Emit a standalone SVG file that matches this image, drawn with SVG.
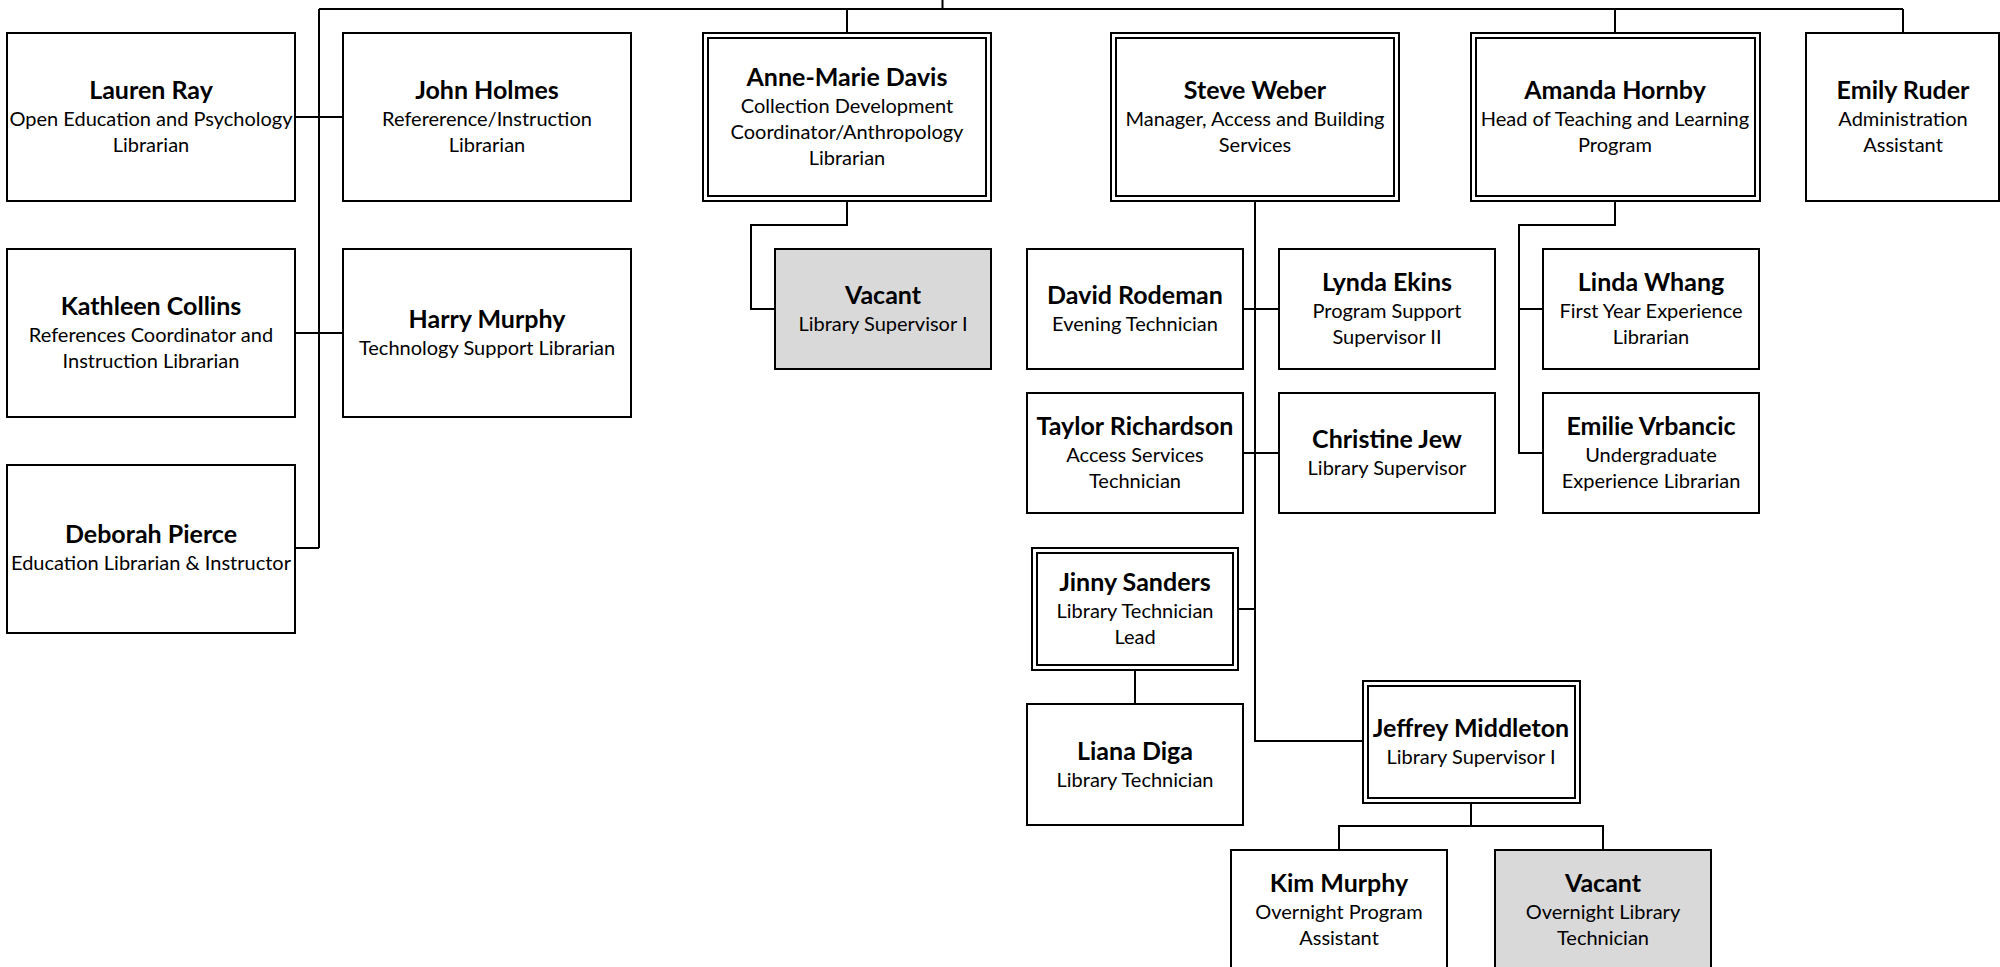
<svg xmlns="http://www.w3.org/2000/svg" width="2000" height="967" viewBox="0 0 2000 967">
<style>
.bx{fill:#fff;stroke:#000;stroke-width:2}
.vac{fill:#d9d9d9;stroke:#000;stroke-width:2}
.in{fill:none;stroke:#000;stroke-width:2}
.c{fill:none;stroke:#000;stroke-width:2}
text{font-family:Lato,"Liberation Sans",sans-serif;text-anchor:middle;fill:#000}
.n{font-weight:bold;font-size:25px}
.t{font-size:20px}
</style>
<rect width="2000" height="967" fill="#fff"/>
<g id="connectors">
<path class="c" d="M942.5 0V9M319 9H1903M319 9V548M295 117H343M295 333H343M295 548H319"/>
<path class="c" d="M847 9V33M847 201V225H751V309H775"/>
<path class="c" d="M1615 9V33M1903 9V33"/>
<path class="c" d="M1255 201V741H1363M1243 309H1279M1243 453H1279M1238 609H1255M1135 670V704"/>
<path class="c" d="M1615 201V225H1519V453H1542M1519 309H1543"/>
<path class="c" d="M1471 803V826M1339 850V826H1603V850"/>
</g>
<g id="lauren"><rect class="bx" x="7" y="33" width="288" height="168"/><text x="151" y="98.5"><tspan class="n">Lauren Ray</tspan><tspan class="t" x="151" dy="27">Open Education and Psychology</tspan><tspan class="t" x="151" dy="26">Librarian</tspan></text></g>
<g id="john"><rect class="bx" x="343" y="33" width="288" height="168"/><text x="487" y="98.5"><tspan class="n">John Holmes</tspan><tspan class="t" x="487" dy="27">Refererence/Instruction</tspan><tspan class="t" x="487" dy="26">Librarian</tspan></text></g>
<g id="kathleen"><rect class="bx" x="7" y="249" width="288" height="168"/><text x="151" y="314.5"><tspan class="n">Kathleen Collins</tspan><tspan class="t" x="151" dy="27">References Coordinator and</tspan><tspan class="t" x="151" dy="26">Instruction Librarian</tspan></text></g>
<g id="harry"><rect class="bx" x="343" y="249" width="288" height="168"/><text x="487" y="327.5"><tspan class="n">Harry Murphy</tspan><tspan class="t" x="487" dy="27">Technology Support Librarian</tspan></text></g>
<g id="deborah"><rect class="bx" x="7" y="465" width="288" height="168"/><text x="151" y="542.5"><tspan class="n">Deborah Pierce</tspan><tspan class="t" x="151" dy="27">Education Librarian &amp; Instructor</tspan></text></g>
<g id="annemarie"><rect class="bx" x="703" y="33" width="288" height="168"/><rect class="in" x="708" y="38" width="278" height="158"/><text x="847" y="86"><tspan class="n">Anne-Marie Davis</tspan><tspan class="t" x="847" dy="27">Collection Development</tspan><tspan class="t" x="847" dy="26">Coordinator/Anthropology</tspan><tspan class="t" x="847" dy="26">Librarian</tspan></text></g>
<g id="vacant1"><rect class="vac" x="775" y="249" width="216" height="120"/><text x="883" y="303.5"><tspan class="n">Vacant</tspan><tspan class="t" x="883" dy="27">Library Supervisor I</tspan></text></g>
<g id="steve"><rect class="bx" x="1111" y="33" width="288" height="168"/><rect class="in" x="1116" y="38" width="278" height="158"/><text x="1255" y="98.5"><tspan class="n">Steve Weber</tspan><tspan class="t" x="1255" dy="27">Manager, Access and Building</tspan><tspan class="t" x="1255" dy="26">Services</tspan></text></g>
<g id="david"><rect class="bx" x="1027" y="249" width="216" height="120"/><text x="1135" y="303.5"><tspan class="n">David Rodeman</tspan><tspan class="t" x="1135" dy="27">Evening Technician</tspan></text></g>
<g id="lynda"><rect class="bx" x="1279" y="249" width="216" height="120"/><text x="1387" y="290.5"><tspan class="n">Lynda Ekins</tspan><tspan class="t" x="1387" dy="27">Program Support</tspan><tspan class="t" x="1387" dy="26">Supervisor II</tspan></text></g>
<g id="taylor"><rect class="bx" x="1027" y="393" width="216" height="120"/><text x="1135" y="434.5"><tspan class="n">Taylor Richardson</tspan><tspan class="t" x="1135" dy="27">Access Services</tspan><tspan class="t" x="1135" dy="26">Technician</tspan></text></g>
<g id="christine"><rect class="bx" x="1279" y="393" width="216" height="120"/><text x="1387" y="447.5"><tspan class="n">Christine Jew</tspan><tspan class="t" x="1387" dy="27">Library Supervisor</tspan></text></g>
<g id="jinny"><rect class="bx" x="1032" y="548" width="206" height="122"/><rect class="in" x="1037" y="553" width="196" height="112"/><text x="1135" y="590.5"><tspan class="n">Jinny Sanders</tspan><tspan class="t" x="1135" dy="27">Library Technician</tspan><tspan class="t" x="1135" dy="26">Lead</tspan></text></g>
<g id="liana"><rect class="bx" x="1027" y="704" width="216" height="121"/><text x="1135" y="759.5"><tspan class="n">Liana Diga</tspan><tspan class="t" x="1135" dy="27">Library Technician</tspan></text></g>
<g id="jeffrey"><rect class="bx" x="1363" y="681" width="217" height="122"/><rect class="in" x="1368" y="686" width="207" height="112"/><text x="1471" y="736.5"><tspan class="n">Jeffrey Middleton</tspan><tspan class="t" x="1471" dy="27">Library Supervisor I</tspan></text></g>
<g id="kim"><rect class="bx" x="1231" y="850" width="216" height="122"/><text x="1339" y="891.5"><tspan class="n">Kim Murphy</tspan><tspan class="t" x="1339" dy="27">Overnight Program</tspan><tspan class="t" x="1339" dy="26">Assistant</tspan></text></g>
<g id="vacant2"><rect class="vac" x="1495" y="850" width="216" height="122"/><text x="1603" y="891.5"><tspan class="n">Vacant</tspan><tspan class="t" x="1603" dy="27">Overnight Library</tspan><tspan class="t" x="1603" dy="26">Technician</tspan></text></g>
<g id="amanda"><rect class="bx" x="1471" y="33" width="289" height="168"/><rect class="in" x="1476" y="38" width="279" height="158"/><text x="1615" y="98.5"><tspan class="n">Amanda Hornby</tspan><tspan class="t" x="1615" dy="27">Head of Teaching and Learning</tspan><tspan class="t" x="1615" dy="26">Program</tspan></text></g>
<g id="emily"><rect class="bx" x="1806" y="33" width="193" height="168"/><text x="1903" y="98.5"><tspan class="n">Emily Ruder</tspan><tspan class="t" x="1903" dy="27">Administration</tspan><tspan class="t" x="1903" dy="26">Assistant</tspan></text></g>
<g id="linda"><rect class="bx" x="1543" y="249" width="216" height="120"/><text x="1651" y="290.5"><tspan class="n">Linda Whang</tspan><tspan class="t" x="1651" dy="27">First Year Experience</tspan><tspan class="t" x="1651" dy="26">Librarian</tspan></text></g>
<g id="emilie"><rect class="bx" x="1543" y="393" width="216" height="120"/><text x="1651" y="434.5"><tspan class="n">Emilie Vrbancic</tspan><tspan class="t" x="1651" dy="27">Undergraduate</tspan><tspan class="t" x="1651" dy="26">Experience Librarian</tspan></text></g>
</svg>
